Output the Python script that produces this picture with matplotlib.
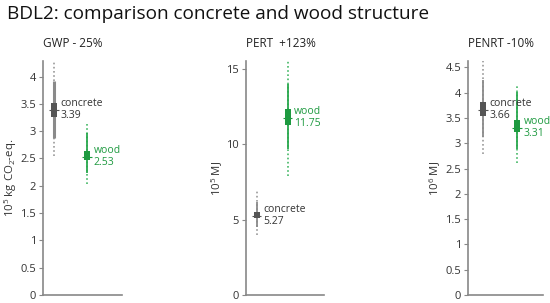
import matplotlib
matplotlib.use("Agg")
from matplotlib import pyplot as plt

plt.rcParams['font.family'] = ['Open Sans', 'DejaVu Sans']
plt.rcParams['mathtext.fontset'] = 'custom'
plt.rcParams['mathtext.rm'] = 'Open Sans'

# panel titles and axis labels
titles = ['GWP - 25%', 'PERT  +123%', 'PENRT -10%']
ylabels = [r'10$^{5}$ kg CO$_{2}$-eq.', r'10$^{5}$ MJ', r'10$^{6}$ MJ']
materials = ['concrete', 'wood']

# stats per panel: [concrete, wood]
dot_lo = [[2.54, 2.03], [3.97, 7.9], [2.79, 2.61]]
whis_lo = [[2.88, 2.23], [4.52, 9.7], [3.12, 2.89]]
q1 = [[3.25, 2.48], [5.08, 11.3], [3.53, 3.22]]
med = [[3.39, 2.53], [5.27, 11.75], [3.66, 3.31]]
q3 = [[3.52, 2.63], [5.52, 12.36], [3.81, 3.46]]
whis_hi = [[3.92, 2.96], [6.18, 14.0], [4.24, 4.01]]
dot_hi = [[4.28, 3.14], [6.9, 15.5], [4.62, 4.14]]

yticks = [[0, 0.5, 1, 1.5, 2, 2.5, 3, 3.5, 4], [0, 5, 10, 15],
          [0, 0.5, 1, 1.5, 2, 2.5, 3, 3.5, 4, 4.5]]
ytop = [4.28, 15.5, 4.62]
xlims = [(0.67, 3.05), (0.65, 3.16), (0.56, 2.76)]
axpos = [[0.078, 0.026, 0.144, 0.772],
         [0.447, 0.026, 0.142, 0.772],
         [0.851, 0.026, 0.136, 0.772]]
label_x = [-0.30, -0.27, -0.33]

box_col = ['#555555', '#1e9a40']
line_col = ['#8a8a8a', '#2aa84e']
dot_col = ['#9a9a9a', '#44b866']
txt_col = ['#333333', '#1e9a40']
solid_w = [[2.2, 1.3], [1.3, 1.3], [1.3, 1.3]]
box_w = [[0.19, 0.17], [0.2, 0.2], [0.17, 0.17]]

fig = plt.figure(figsize=(5.5, 3.03), dpi=100)
fig.text(0.012, 0.985, 'BDL2: comparison concrete and wood structure',
         fontsize=13.7, va='top', ha='left', color='#111111')

for p in range(3):
    ax = fig.add_axes(axpos[p])
    for i in range(2):
        x = i + 1
        ax.vlines(x, dot_lo[p][i], dot_hi[p][i], color=dot_col[i], lw=1.2,
                  linestyles=(0, (1, 1.5)), zorder=1)
        ax.vlines(x, whis_lo[p][i], whis_hi[p][i], color=line_col[i],
                  lw=solid_w[p][i], zorder=2)
        ax.bar(x, q3[p][i] - q1[p][i], bottom=q1[p][i], width=box_w[p][i],
               color=box_col[i], zorder=3)
        ax.hlines(med[p][i], x - 0.14, x + 0.14, color=box_col[i], lw=0.8, zorder=4)
        ax.text(x + 0.2, med[p][i], materials[i] + '\n' + f'{med[p][i]:.2f}',
                color=txt_col[i], fontsize=7.5, va='center', ha='left',
                linespacing=1.1)
    ax.set_xlim(*xlims[p])
    ax.set_ylim(0, ytop[p])
    ax.set_yticks(yticks[p])
    ax.set_yticklabels([f'{t:g}' for t in yticks[p]])
    ax.set_xticks([])
    for s in ['top', 'right']:
        ax.spines[s].set_visible(False)
    for s in ['left', 'bottom']:
        ax.spines[s].set_color('#888888')
        ax.spines[s].set_linewidth(1.2)
    ax.tick_params(axis='y', colors='#888888', labelcolor='#333333',
                   labelsize=8, length=3, width=0.8, pad=2)
    ax.set_ylabel(ylabels[p], fontsize=8.2, color='#333333')
    ax.yaxis.set_label_coords(label_x[p], 0.5)
    ax.set_title(titles[p], fontsize=8.5, color='#222222', pad=10, loc='left', x=0.0)

fig.savefig('out.png', dpi=100)
